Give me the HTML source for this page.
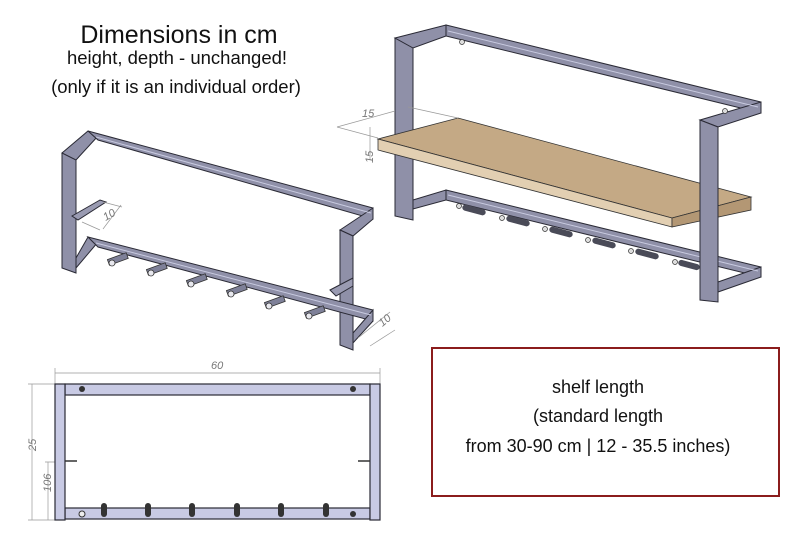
<!DOCTYPE html>
<html><head><style>
html,body{margin:0;padding:0;background:#fff;}
body{width:794px;height:548px;overflow:hidden;position:relative;font-family:"Liberation Sans",sans-serif;}
</style></head><body>
<svg width="794" height="548" viewBox="0 0 794 548" xmlns="http://www.w3.org/2000/svg" style="position:absolute;left:0;top:0">
<g font-family="Liberation Sans, sans-serif" fill="#111" text-anchor="middle">
<text x="179" y="43" font-size="25">Dimensions in cm</text>
<text x="177" y="64" font-size="18.5">height, depth - unchanged!</text>
<text x="176" y="93" font-size="18.5">(only if it is an individual order)</text>
</g>

<!-- Left isometric frame -->
<g stroke="#2a2a35" stroke-width="1" fill="#8f90a8">
<polygon points="62,153 76,146 76,273 62,268"/>
<polygon points="62,153 88,131 98,136 76,160"/>
<polygon points="88,131 373,208 373,219 98,140"/>
<polygon points="340,230 373,208 373,219 353,236"/>
<polygon points="340,230 353,236 353,350 340,345"/>
<polygon points="76,258 88,237 98,242 76,268"/>
<polygon points="88,237 373,310 373,321 98,247"/>
<polygon points="353,333 373,310 373,321 353,343"/>
<polygon points="72,216 100,200 106,202 78,220" fill="#9a9bb2"/>
<polygon points="330,290 353,278 353,286 336,296" fill="#9a9bb2"/>
</g>
<g stroke="#c8cae0" stroke-width="1"><line x1="96" y1="137" x2="371" y2="213"/><line x1="96" y1="243" x2="371" y2="315"/></g>
<g fill="#7e8098" stroke="#333" stroke-width="0.8">
<rect x="108" y="257" width="20" height="6" transform="rotate(-20 115 260)"/>
<rect x="147" y="267" width="20" height="6" transform="rotate(-20 154 270)"/>
<rect x="187" y="278" width="20" height="6" transform="rotate(-20 194 281)"/>
<rect x="227" y="288" width="20" height="6" transform="rotate(-20 234 291)"/>
<rect x="265" y="300" width="20" height="6" transform="rotate(-20 272 303)"/>
<rect x="305" y="310" width="20" height="6" transform="rotate(-20 312 313)"/>
</g>
<g fill="#e8e8ee" stroke="#333" stroke-width="0.8">
<circle cx="112" cy="263" r="3"/><circle cx="151" cy="273" r="3"/><circle cx="191" cy="284" r="3"/>
<circle cx="231" cy="294" r="3"/><circle cx="269" cy="306" r="3"/><circle cx="309" cy="316" r="3"/>
</g>
<g stroke="#999" stroke-width="0.7" fill="none">
<line x1="103" y1="202" x2="122" y2="207"/><line x1="82" y1="222" x2="100" y2="230"/><line x1="121" y1="205" x2="103" y2="229"/>
<line x1="358" y1="338" x2="390" y2="312"/><line x1="370" y1="346" x2="395" y2="330"/>
</g>
<g font-family="Liberation Sans, sans-serif" font-size="11" font-style="italic" fill="#777">
<text x="103" y="219" transform="rotate(-30 108 215)">10</text>
<text x="378" y="325" transform="rotate(-40 383 320)">10</text>
</g>

<!-- Right isometric frame with shelf -->
<g stroke="#2a2a35" stroke-width="1" fill="#8f90a8">
<polygon points="395,38 413,43 413,220 395,216"/>
<polygon points="395,38 446,25 446,36 413,48"/>
<polygon points="446,25 761,102 761,113 446,36"/>
<polygon points="700,120 761,102 761,113 718,127"/>
<polygon points="413,200 446,190 446,200 413,209"/>
<polygon points="446,190 761,267 761,277 446,200"/>
<polygon points="718,282 761,267 761,277 718,292"/>
</g>
<g stroke="#c8cae0" stroke-width="1"><line x1="448" y1="31" x2="758" y2="107"/><line x1="448" y1="195" x2="758" y2="271"/></g>
<polygon points="378,139 458,118 751,197 672,218" fill="#c4a985" stroke="#333" stroke-width="0.8"/>
<polygon points="378,139 672,218 672,227 378,150" fill="#e2cfb2" stroke="#333" stroke-width="0.8"/>
<polygon points="672,218 751,197 751,210 672,227" fill="#b39774" stroke="#333" stroke-width="0.8"/>
<polygon points="700,120 718,127 718,302 700,300" fill="#8f90a8" stroke="#2a2a35"/>
<g fill="#4a4b58">
<rect x="462" y="207" width="24" height="6" rx="3" transform="rotate(15 474 210)"/>
<rect x="506" y="218" width="24" height="6" rx="3" transform="rotate(15 518 221)"/>
<rect x="549" y="229" width="24" height="6" rx="3" transform="rotate(15 561 232)"/>
<rect x="592" y="240" width="24" height="6" rx="3" transform="rotate(15 604 243)"/>
<rect x="635" y="251" width="24" height="6" rx="3" transform="rotate(15 647 254)"/>
<rect x="678" y="262" width="22" height="6" rx="3" transform="rotate(15 689 265)"/>
</g>
<g fill="#ddd" stroke="#333" stroke-width="0.7">
<circle cx="459" cy="206" r="2.5"/><circle cx="502" cy="218" r="2.5"/><circle cx="545" cy="229" r="2.5"/>
<circle cx="588" cy="240" r="2.5"/><circle cx="631" cy="251" r="2.5"/><circle cx="675" cy="262" r="2.5"/>
<circle cx="462" cy="42" r="2.5"/><circle cx="725" cy="111" r="2.5"/>
</g>
<g stroke="#999" stroke-width="0.7" fill="none">
<line x1="337" y1="127" x2="395" y2="111"/><line x1="408" y1="107" x2="458" y2="118"/><line x1="337" y1="127" x2="378" y2="138"/>
<line x1="370" y1="127" x2="370" y2="160"/>
</g>
<g font-family="Liberation Sans, sans-serif" font-size="11" font-style="italic" fill="#777">
<text x="362" y="117">15</text>
<text x="370" y="170" transform="rotate(-90 368 165)">15</text>
</g>

<!-- Front view -->
<g stroke="#999" stroke-width="0.7" fill="none">
<line x1="55" y1="373" x2="380" y2="373"/>
<line x1="55" y1="368" x2="55" y2="384"/><line x1="380" y1="368" x2="380" y2="384"/>
<line x1="32" y1="384" x2="32" y2="520"/><line x1="28" y1="384" x2="55" y2="384"/><line x1="28" y1="520" x2="55" y2="520"/>
<line x1="48" y1="462" x2="48" y2="520"/><line x1="45" y1="462" x2="62" y2="462"/>
</g>
<g font-family="Liberation Sans, sans-serif" font-size="11" font-style="italic" fill="#777">
<text x="211" y="369">60</text>
<text x="33" y="462" transform="rotate(-90 29 455)">25</text>
<text x="44" y="499" transform="rotate(-90 44 492)">106</text>
</g>
<g stroke="#2a2a35" stroke-width="1.2" fill="#c8cae4">
<rect x="65" y="384" width="305" height="11"/>
<rect x="65" y="508" width="305" height="11"/>
<rect x="55" y="384" width="10" height="136"/>
<rect x="370" y="384" width="10" height="136"/>
</g>
<g stroke="#333" stroke-width="1.5"><line x1="65" y1="461" x2="77" y2="461"/><line x1="358" y1="461" x2="370" y2="461"/></g>
<g fill="#333">
<circle cx="82" cy="389" r="3"/><circle cx="353" cy="389" r="3"/><circle cx="353" cy="514" r="3"/>
<rect x="101" y="503" width="6" height="14" rx="3"/><rect x="145" y="503" width="6" height="14" rx="3"/>
<rect x="189" y="503" width="6" height="14" rx="3"/><rect x="234" y="503" width="6" height="14" rx="3"/>
<rect x="278" y="503" width="6" height="14" rx="3"/><rect x="323" y="503" width="6" height="14" rx="3"/>
</g>
<circle cx="82" cy="514" r="3" fill="#eee" stroke="#333"/>

<!-- Red box -->
<rect x="432" y="348" width="347" height="148" fill="none" stroke="#8b1c1c" stroke-width="2"/>
<g font-family="Liberation Sans, sans-serif" font-size="18" fill="#111" text-anchor="middle">
<text x="598" y="393">shelf length</text>
<text x="598" y="422">(standard length</text>
<text x="598" y="452">from 30-90 cm | 12 - 35.5 inches)</text>
</g>
</svg>
</body></html>
